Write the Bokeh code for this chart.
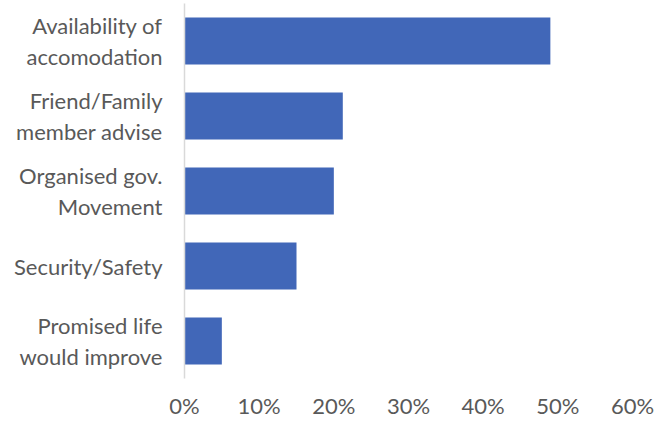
from bokeh.plotting import figure
from bokeh.models import Range1d, FixedTicker, NumeralTickFormatter
from bokeh.embed import file_html
from bokeh.resources import INLINE

categories = [
    "Availability of\naccomodation",
    "Friend/Family\nmember advise",
    "Organised gov.\nMovement",
    "Security/Safety",
    "Promised life\nwould improve",
]
values = [0.49, 0.212, 0.20, 0.15, 0.05]
x_ticks = [0.0, 0.1, 0.2, 0.3, 0.4, 0.5, 0.6]

n = len(categories)
ypos = [n - 1 - i for i in range(n)]

FONT = "Lato"
TXT = "#595959"

p = figure(
    width=664, height=421,
    output_backend="svg", toolbar_location=None,
    x_range=Range1d(0, 0.6),
    y_range=Range1d(-0.5, n - 0.5),
    min_border_left=184, min_border_right=32,
    min_border_top=3, min_border_bottom=43,
)
p.hbar(y=ypos, right=values, left=0, height=0.625,
       fill_color="#4167B8", line_color=None)

p.outline_line_color = None
p.grid.visible = False
p.background_fill_color = "white"
p.border_fill_color = "white"

yax = p.yaxis[0]
yax.ticker = FixedTicker(ticks=ypos)
yax.major_label_overrides = {y: c for y, c in zip(ypos, categories)}
yax.major_tick_line_color = None
yax.minor_tick_line_color = None
yax.major_tick_out = 0
yax.major_tick_in = 0
yax.axis_line_color = "#D9D9D9"
yax.axis_line_width = 1.5
yax.major_label_standoff = 22
yax.major_label_text_font = FONT
yax.major_label_text_font_size = "22px"
yax.major_label_text_line_height = 1.12
yax.major_label_text_color = TXT

xax = p.xaxis[0]
xax.ticker = FixedTicker(ticks=x_ticks)
xax.formatter = NumeralTickFormatter(format="0%")
xax.axis_line_color = None
xax.major_tick_line_color = None
xax.minor_tick_line_color = None
xax.major_tick_out = 0
xax.major_tick_in = 0
xax.major_label_standoff = 13
xax.major_label_text_baseline = "hanging"
xax.major_label_text_font = FONT
xax.major_label_text_font_size = "22px"
xax.major_label_text_color = TXT

open("out.html", "w").write(file_html(p, INLINE))
